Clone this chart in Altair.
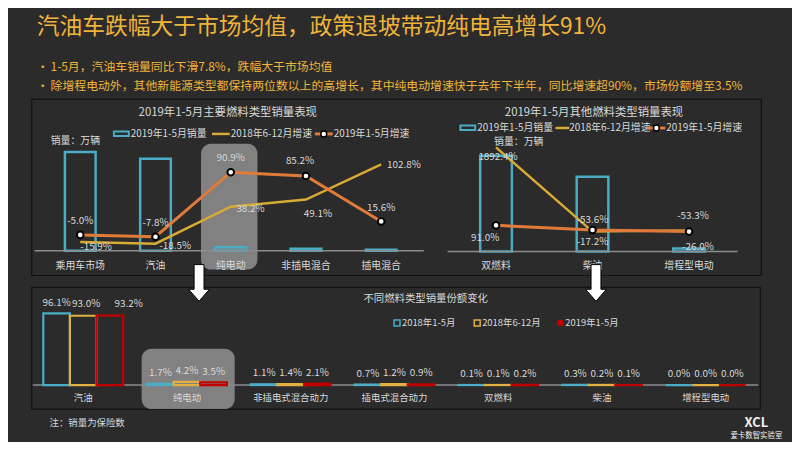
import altair as alt
import pandas as pd

# ---------------- data ----------------
cats1 = ["乘用车市场", "汽油", "纯电动", "非插电混合", "插电混合"]
sales1 = [848, 790, 29.7, 17.8, 7.6]
g2018_1 = [-15.9, -18.5, 38.2, 49.1, 102.8]
g2019_1 = [-5.0, -7.8, 90.9, 85.2, 15.6]

cats2 = ["双燃料", "柴油", "增程型电动"]
sales2 = [1.60, 1.25, 0.05]
g2018_2 = [1892.4, -53.6, -26.0]
g2019_2 = [91.0, -17.2, -53.3]

cats3 = ["汽油", "纯电动", "非插电式混合动力", "插电式混合动力", "双燃料", "柴油", "增程型电动"]
periods = ["2018年1-5月", "2018年6-12月", "2019年1-5月"]
share_18a = [96.1, 1.7, 1.1, 0.7, 0.1, 0.3, 0.0]
share_18b = [93.0, 4.2, 1.4, 1.2, 0.1, 0.2, 0.0]
share_19 = [93.2, 3.5, 2.1, 0.9, 0.2, 0.1, 0.0]

# ---------------- style ----------------
FONT = "Noto Sans CJK SC"
BG = "#2b2b2b"
GOLD_T = "#f0b43a"
TXT = "#d9d9d9"
CYAN = "#4bacc6"
YEL = "#d8aa36"
ORG = "#e07b39"
RED = "#c00000"
AXC = "#8c8c8c"
W, H = 792, 434
OX, OY = 8, 8


def px(v):
    return v - OX


def py(v):
    return v - OY


one = pd.DataFrame({"k": [0]})


def text(s, x, y, size=10, color=TXT, align="left", weight="normal"):
    return alt.Chart(one).mark_text(text=s, fontSize=size, color=color, align=align,
                                    baseline="middle", font=FONT, fontWeight=weight).encode(
        x=alt.value(px(x)), y=alt.value(py(y)))


def rect(x0, x1, y0, y1, **kw):
    return alt.Chart(one).mark_rect(**kw).encode(
        x=alt.value(px(x0)), x2=alt.value(px(x1)), y=alt.value(py(y0)), y2=alt.value(py(y1)))


def hline(x0, x1, y, color, w):
    return alt.Chart(one).mark_rule(color=color, strokeWidth=w).encode(
        x=alt.value(px(x0)), x2=alt.value(px(x1)), y=alt.value(py(y)))


def dot(x, y):
    return alt.Chart(one).mark_point(filled=True, fill="white", stroke="black", strokeWidth=1.5,
                                     size=36, opacity=1).encode(x=alt.value(px(x)), y=alt.value(py(y)))


def arrow(x, y):
    path = "M-0.27,-1L0.27,-1L0.27,0.35L0.57,0.35L0,1L-0.57,0.35L-0.27,0.35Z"
    return alt.Chart(one).mark_point(shape=path, filled=True, fill="white", stroke="black",
                                     strokeWidth=1, size=37 * 37, opacity=1).encode(
        x=alt.value(px(x)), y=alt.value(py(y)))


def labels(df, keyfield, xenc, yenc, textfield, default, overrides, extra=None):
    out = []
    keys = list(overrides.keys())
    base = alt.Chart(df)
    if keys:
        cond = " && ".join([f"datum.{keyfield} != '{k}'" for k in keys])
        base = base.transform_filter(cond)
    enc = dict(x=xenc, y=yenc, text=alt.Text(f"{textfield}:N"))
    if extra:
        enc.update(extra)
    out.append(base.mark_text(font=FONT, fontSize=10, color=TXT, dx=default[0], dy=default[1]).encode(**enc))
    for k, (dx, dy) in overrides.items():
        out.append(alt.Chart(df).transform_filter(f"datum.{keyfield} == '{k}'").mark_text(
            font=FONT, fontSize=10, color=TXT, dx=dx, dy=dy).encode(**enc))
    return out


layers = []

# ---------------- header ----------------
layers.append(text("汽油车跌幅大于市场均值，政策退坡带动纯电高增长91%", 37, 25, size=23, color=GOLD_T))
layers.append(text("•", 37, 65, size=12, color=GOLD_T))
layers.append(text("1-5月，汽油车销量同比下滑7.8%，跌幅大于市场均值", 51, 65, size=12, color=GOLD_T))
layers.append(text("•", 37, 85, size=12, color=GOLD_T))
layers.append(text("除增程电动外，其他新能源类型都保持两位数以上的高增长，其中纯电动增速快于去年下半年，同比增速超90%，市场份额增至3.5%",
                   51, 85, size=12, color=GOLD_T))

# ---------------- panel boxes ----------------
layers.append(rect(32, 769, 98, 276, fill=BG, stroke="#121212", strokeWidth=1.2))
layers.append(rect(32, 768, 288, 411, fill=BG, stroke="#121212", strokeWidth=1.2))

# ---------------- panel 1 ----------------
df1 = pd.DataFrame({"cat": cats1, "sales": sales1, "g18": g2018_1, "g19": g2019_1})
df1["l18"] = [f"{v:.1f}%" for v in g2018_1]
df1["l19"] = [f"{v:.1f}%" for v in g2019_1]
x1 = alt.X("cat:N", sort=cats1, axis=None,
           scale=alt.Scale(type="point", domain=cats1, range=[px(81), px(385)], padding=0))
ys1 = alt.Y("sales:Q", axis=None, scale=alt.Scale(domain=[0, 850], range=[py(251), py(151)], nice=False, zero=False))
gs1 = alt.Scale(domain=[-30, 120], range=[py(251.5), py(152.5)], nice=False, zero=False)

layers.append(rect(203, 260, 143, 270, fill="#c8c8c8", opacity=0.55, cornerRadius=10))
layers.append(text("2019年1-5月主要燃料类型销量表现", 230, 112, size=11.5, align="center"))
layers.append(rect(115, 130, 130.5, 135, fill=BG, stroke=CYAN, strokeWidth=2))
layers.append(text("2019年1-5月销量", 132, 133, size=10))
layers.append(hline(214, 232, 133, YEL, 2.5))
layers.append(text("2018年6-12月增速", 233, 133, size=10))
layers.append(hline(318, 336, 133, ORG, 3))
layers.append(dot(327, 133))
layers.append(text("2019年1-5月增速", 337, 133, size=10))
layers.append(text("销量：万辆", 76, 140, size=10, align="center"))

layers.append(alt.Chart(df1).mark_bar(filled=False, color=CYAN, strokeWidth=2.5, size=31).encode(x=x1, y=ys1))
layers.append(hline(35, 428, 251, AXC, 1.5))
layers.append(alt.Chart(df1).mark_line(color=YEL, strokeWidth=2.5).encode(x=x1, y=alt.Y("g18:Q", scale=gs1, axis=None)))
layers.append(alt.Chart(df1).mark_line(color=ORG, strokeWidth=3).encode(x=x1, y=alt.Y("g19:Q", scale=gs1, axis=None)))
layers.append(alt.Chart(df1).mark_point(filled=True, fill="white", stroke="black", strokeWidth=2, size=45, opacity=1).encode(
    x=x1, y=alt.Y("g19:Q", scale=gs1, axis=None)))
layers += labels(df1, "cat", x1, alt.Y("g19:Q", scale=gs1, axis=None), "l19", (0, -14), {"非插电混合": (-6, -15)})
layers += labels(df1, "cat", x1, alt.Y("g18:Q", scale=gs1, axis=None), "l18", (20, 2),
                 {"乘用车市场": (16, 5), "非插电混合": (12, 15), "插电混合": (23, 1)})
layers.append(alt.Chart(df1).mark_text(font=FONT, fontSize=10, color=TXT).encode(
    x=x1, y=alt.value(py(266)), text="cat:N"))

# ---------------- panel 2 ----------------
df2 = pd.DataFrame({"cat": cats2, "sales": sales2, "g18": g2018_2, "g19": g2019_2})
df2["l18"] = [f"{v:.1f}%" for v in g2018_2]
df2["l19"] = [f"{v:.1f}%" for v in g2019_2]
x2 = alt.X("cat:N", sort=cats2, axis=None,
           scale=alt.Scale(type="point", domain=cats2, range=[px(501), px(696)], padding=0))
ys2 = alt.Y("sales:Q", axis=None, scale=alt.Scale(domain=[0, 1.6], range=[py(251.7), py(155)], nice=False, zero=False))
gs2 = alt.Scale(domain=[-500, 2000], range=[py(251.15), py(141.9)], nice=False, zero=False)

layers.append(text("2019年1-5月其他燃料类型销量表现", 600, 112, size=11.5, align="center"))
layers.append(rect(465, 480, 124.5, 129, fill=BG, stroke=CYAN, strokeWidth=2))
layers.append(text("2019年1-5月销量", 482, 127, size=10))
layers.append(hline(561, 575, 127, YEL, 2.5))
layers.append(text("2018年6-12月增速", 575, 127, size=10))
layers.append(hline(653, 672, 127, ORG, 3))
layers.append(dot(663, 127))
layers.append(text("2019年1-5月增速", 673, 127, size=10))
layers.append(text("销量：万辆", 524, 141.5, size=10, align="center"))

layers.append(alt.Chart(df2).mark_bar(filled=False, color=CYAN, strokeWidth=2.5, size=32).encode(x=x2, y=ys2))
layers.append(hline(452, 745, 251.7, AXC, 1.5))
layers.append(alt.Chart(df2).mark_line(color=YEL, strokeWidth=2.5).encode(x=x2, y=alt.Y("g18:Q", scale=gs2, axis=None)))
layers.append(alt.Chart(df2).mark_line(color=ORG, strokeWidth=3).encode(x=x2, y=alt.Y("g19:Q", scale=gs2, axis=None)))
layers.append(alt.Chart(df2).mark_point(filled=True, fill="white", stroke="black", strokeWidth=2, size=45, opacity=1).encode(
    x=x2, y=alt.Y("g19:Q", scale=gs2, axis=None)))
layers += labels(df2, "cat", x2, alt.Y("g19:Q", scale=gs2, axis=None), "l19", (-11, 13),
                 {"柴油": (0, 12), "增程型电动": (4, -16)})
layers += labels(df2, "cat", x2, alt.Y("g18:Q", scale=gs2, axis=None), "l18", (2, 10),
                 {"柴油": (0, -12), "增程型电动": (9, 17)})
layers.append(alt.Chart(df2).mark_text(font=FONT, fontSize=10, color=TXT).encode(
    x=x2, y=alt.value(py(266)), text="cat:N"))

# ---------------- panel 3 ----------------
rows = []
for i, c in enumerate(cats3):
    for p, arr in zip(periods, [share_18a, share_18b, share_19]):
        rows.append({"cat": c, "period": p, "share": arr[i], "lbl": f"{arr[i]:.1f}%", "key": f"{c}|{p}"})
df3 = pd.DataFrame(rows)
x3 = alt.X("cat:N", sort=cats3, axis=None,
           scale=alt.Scale(type="band", domain=cats3, range=[px(31.6), px(765.2)], paddingInner=0.23, paddingOuter=0.115))
xo3 = alt.XOffset("period:N", sort=periods, scale=alt.Scale(domain=periods, paddingInner=0, paddingOuter=0))
ys3 = alt.Y("share:Q", axis=None, scale=alt.Scale(domain=[0, 100], range=[py(386.7), py(311.4)], nice=False, zero=False))

layers.append(rect(143, 237, 350, 411, fill="#c8c8c8", opacity=0.55, cornerRadius=10))
layers.append(text("不同燃料类型销量份额变化", 430, 300, size=10.5, align="center"))
layers.append(rect(398, 404, 321, 327, fill=BG, stroke=CYAN, strokeWidth=1.5))
layers.append(text("2018年1-5月", 406, 324, size=9.5))
layers.append(rect(479, 485, 321, 327, fill=BG, stroke="#e0b040", strokeWidth=1.5))
layers.append(text("2018年6-12月", 487, 324, size=9.5))
layers.append(rect(563, 569, 321, 327, fill=RED))
layers.append(text("2019年1-5月", 571, 324, size=9.5))

layers.append(hline(33, 766, 386.7, AXC, 1.5))
layers.append(alt.Chart(df3).mark_bar(filled=False, strokeWidth=2.2).encode(
    x=x3, xOffset=xo3, y=ys3,
    color=alt.Color("period:N", legend=None,
                    scale=alt.Scale(domain=periods, range=[CYAN, "#e0b040", RED]))))
layers += labels(df3, "key", x3, ys3, "lbl", (0, -11),
                 {"汽油|2018年6-12月": (3, -12), "汽油|2019年1-5月": (19, -12)}, extra={"xOffset": xo3})
layers.append(alt.Chart(pd.DataFrame({"cat": cats3})).mark_text(font=FONT, fontSize=9.5, color=TXT).encode(
    x=x3, y=alt.value(py(400)), text="cat:N"))

# ---------------- arrows & footer ----------------
layers.append(arrow(201, 283.5))
layers.append(arrow(602, 283.5))
layers.append(text("注：销量为保险数", 50, 425, size=9.5))
layers.append(text("XCL", 764, 425, size=13, color="#f0f0f0", align="center", weight="bold"))
layers.append(text("爱卡数智实验室", 764, 438.5, size=7.5, color="#f0f0f0", align="center"))

chart = alt.layer(*layers).resolve_scale(x="independent", y="independent").properties(
    width=W, height=H, padding=0, autosize=alt.AutoSizeParams(type="none"), background=BG
).configure_view(stroke=None)

chart.save("out.html", embed_options={"renderer": "svg", "actions": False})
